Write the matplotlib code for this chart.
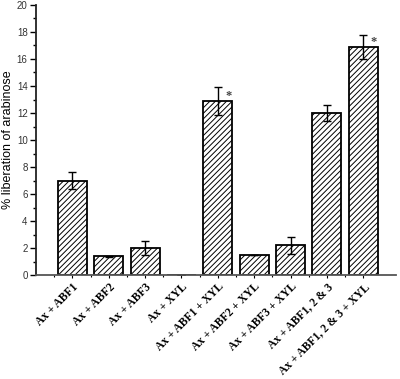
import matplotlib.pyplot as plt
import numpy as np

#######################
# data
labels = ["Ax + ABF1", "Ax + ABF2", "Ax + ABF3", "Ax + XYL",
          "Ax + ABF1 + XYL", "Ax + ABF2 + XYL", "Ax + ABF3 + XYL",
          "Ax + ABF1, 2 & 3", "Ax + ABF1, 2 & 3 + XYL"]
liberation = [7.0, 1.4, 2.0, 0.0, 12.9, 1.5, 2.2, 12.0, 16.9]
errors = [0.65, 0.05, 0.5, 0.0, 1.05, 0.0, 0.65, 0.6, 0.9]
significant = [False, False, False, False, True, False, False, False, True]
#######################

plt.rcParams['hatch.linewidth'] = 0.7

fig = plt.figure(figsize=(4.0, 3.79), dpi=100)
ax = fig.add_axes([0.09, 0.274, 0.90, 0.713])

x = np.arange(1, len(labels) + 1)
ax.bar(x, liberation, width=0.8, color="white", edgecolor="black",
       linewidth=1.3, hatch="//////")
ax.errorbar(x, liberation, yerr=errors, fmt="none", ecolor="black",
            elinewidth=1.0, capsize=3, capthick=1.0)

# asterisks next to significant bars
for xi, val, sig in zip(x, liberation, significant):
    if sig:
        ax.text(xi + 0.2, val + 0.35, "*", fontsize=9, fontweight="bold",
                family="Liberation Serif", ha="left", va="center", color="#444444")

ax.set_xlim(0, 9.9)
ax.set_ylim(0, 20)
ax.set_yticks(np.arange(0, 21, 2))
ax.set_yticks(np.arange(1, 20, 2), minor=True)
ax.set_xticks(x)
ax.set_xticklabels(labels, rotation=45, ha="right", rotation_mode="anchor",
                   family="Liberation Serif", fontweight="bold", fontsize=8.3)
ax.set_xticks(x - 0.5, minor=True)

for lab in ax.get_yticklabels():
    lab.set_family("Liberation Sans")
    lab.set_fontsize(7)
    lab.set_color("#333333")
ax.set_ylabel("% liberation of arabinose", family="Liberation Sans", fontsize=9,
              labelpad=2)

ax.tick_params(axis="y", which="major", length=4, width=1.0, direction="out", pad=2)
ax.tick_params(axis="y", which="minor", length=2.5, width=1.0, direction="out")
ax.tick_params(axis="x", which="major", length=2, width=0.8, direction="out", pad=2)
ax.tick_params(axis="x", which="minor", length=1.5, width=0.8, direction="out")

ax.spines["top"].set_visible(False)
ax.spines["right"].set_visible(False)
ax.spines["left"].set_linewidth(1.3)
ax.spines["bottom"].set_linewidth(1.3)
ax.spines["left"].set_color("#222222")
ax.spines["bottom"].set_color("#555555")

fig.savefig("out.png", dpi=100)
